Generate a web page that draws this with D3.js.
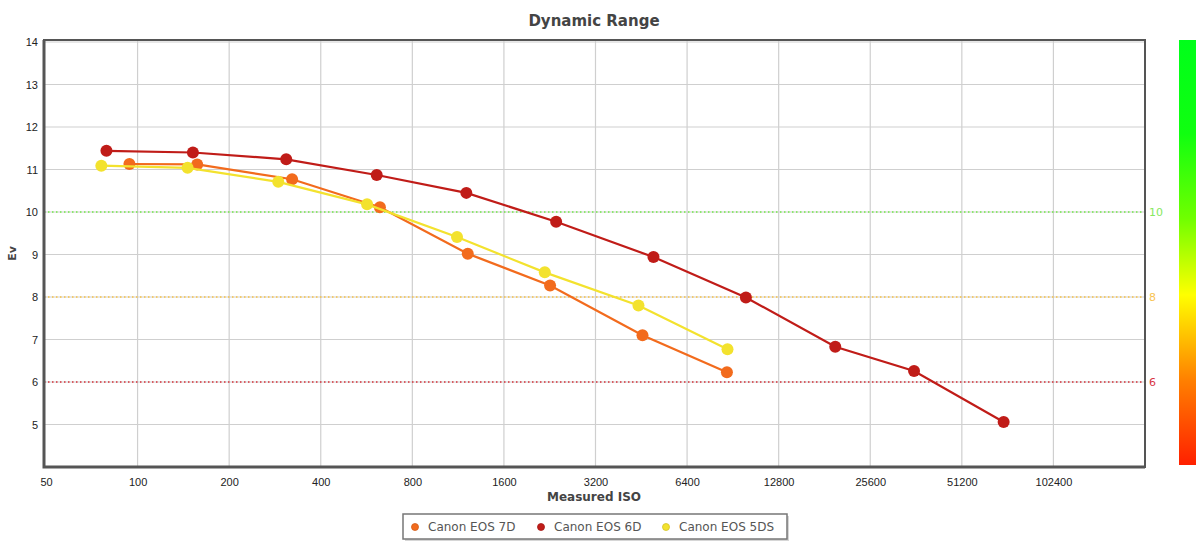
<!DOCTYPE html>
<html>
<head>
<meta charset="utf-8">
<script src="https://cdn.jsdelivr.net/npm/d3@7"></script>
<style>
  body { margin: 0; background: #fff; }
  svg { font-family: "DejaVu Sans", Verdana, sans-serif; }
</style>
</head>
<body>
<div id="chart"></div>
<script>
// data
const isoTicks = [50, 100, 200, 400, 800, 1600, 3200, 6400, 12800, 25600, 51200, 102400]
const evTicks = [5, 6, 7, 8, 9, 10, 11, 12, 13, 14]

const iso7D = [94, 157, 322, 626, 1217, 2269, 4566, 8652]
const ev7D = [11.13, 11.12, 10.77, 10.11, 9.02, 8.27, 7.10, 6.23]

const iso6D = [79, 152, 308, 611, 1204, 2376, 4962, 9990, 19645, 35660, 70260]
const ev6D = [11.44, 11.40, 11.24, 10.87, 10.45, 9.77, 8.94, 7.99, 6.83, 6.26, 5.06]

const iso5DS = [76, 146, 290, 568, 1122, 2180, 4430, 8690]
const ev5DS = [11.09, 11.04, 10.71, 10.18, 9.41, 8.58, 7.80, 6.77]

const seriesNames = ["Canon EOS 7D", "Canon EOS 6D", "Canon EOS 5DS"]
const seriesColors = ["#f26b1d", "#c01c18", "#f3e22e"]

const refLevels = [10, 8, 6]
const refColors = ["#72e84a", "#f7c144", "#d3313a"]
const refLabelColors = ["#86e860", "#f8c353", "#d83545"]

const W = 1200, H = 545
const plot = {left: 44, right: 1145, top: 40, bottom: 467}

const svg = d3.select("#chart").append("svg")
    .attr("width", W)
    .attr("height", H)

const x = d3.scaleLog().base(2)
    .domain([50, 204800])
    .range([46, plot.right])
const y = d3.scaleLinear()
    .domain([4, 14])
    .range([plot.bottom, 42])

// grid
const grid = svg.append("g")
grid.selectAll(".vgrid")
    .data(isoTicks.slice(1))
    .join("line")
    .attr("x1", d => x(d)).attr("x2", d => x(d))
    .attr("y1", plot.top).attr("y2", plot.bottom)
    .attr("stroke", "#cfcfcf")
    .attr("stroke-width", 1.2)
grid.selectAll(".hgrid")
    .data(evTicks)
    .join("line")
    .attr("x1", plot.left).attr("x2", plot.right)
    .attr("y1", d => y(d)).attr("y2", d => y(d))
    .attr("stroke", "#cfcfcf")
    .attr("stroke-width", 1.2)

// reference dotted lines
refLevels.forEach((lv, i) => {
    svg.append("line")
        .attr("x1", plot.left).attr("x2", plot.right)
        .attr("y1", y(lv)).attr("y2", y(lv))
        .attr("stroke", refColors[i])
        .attr("stroke-width", 1.3)
        .attr("stroke-dasharray", "1.5,2.5")
    svg.append("text")
        .attr("x", plot.right + 4)
        .attr("y", y(lv))
        .attr("dy", "0.35em")
        .attr("fill", refLabelColors[i])
        .style("font-size", "11px")
        .text(lv)
})

// frame
svg.append("rect")
    .attr("x", plot.left).attr("y", plot.top)
    .attr("width", plot.right - plot.left)
    .attr("height", plot.bottom - plot.top)
    .attr("fill", "none")
    .attr("stroke", "#555")
    .attr("stroke-width", 2)
svg.append("path")
    .attr("d", `M${plot.left},${plot.top}V${plot.bottom}H${plot.right}`)
    .attr("fill", "none")
    .attr("stroke", "#555")
    .attr("stroke-width", 3)

// axes
const xAxis = d3.axisBottom(x)
    .tickValues(isoTicks)
    .tickFormat(d3.format("d"))
    .tickSize(0)
    .tickPadding(11)
svg.append("g")
    .attr("transform", `translate(0,${plot.bottom})`)
    .call(xAxis)
    .call(g => g.select(".domain").remove())
    .selectAll("text")
    .attr("fill", "#222")
    .style("font-size", "11px")

const yAxis = d3.axisLeft(y)
    .tickValues(evTicks)
    .tickSize(0)
    .tickPadding(6)
svg.append("g")
    .attr("transform", `translate(${plot.left},0)`)
    .call(yAxis)
    .call(g => g.select(".domain").remove())
    .selectAll("text")
    .attr("fill", "#222")
    .style("font-size", "11px")

// titles
svg.append("text")
    .attr("x", 594).attr("y", 26)
    .attr("text-anchor", "middle")
    .attr("fill", "#444")
    .style("font-size", "15px")
    .style("font-weight", "bold")
    .text("Dynamic Range")
svg.append("text")
    .attr("x", 594).attr("y", 501)
    .attr("text-anchor", "middle")
    .attr("fill", "#444")
    .style("font-size", "12px")
    .style("font-weight", "bold")
    .text("Measured ISO")
svg.append("text")
    .attr("transform", `translate(16,${(plot.top + plot.bottom) / 2}) rotate(-90)`)
    .attr("text-anchor", "middle")
    .attr("fill", "#444")
    .style("font-size", "11px")
    .style("font-weight", "bold")
    .text("Ev")

// series
const seriesData = [
    d3.zip(iso7D, ev7D),
    d3.zip(iso6D, ev6D),
    d3.zip(iso5DS, ev5DS)
]
const line = d3.line().x(d => x(d[0])).y(d => y(d[1]))

seriesData.forEach((pts, i) => {
    const g = svg.append("g")
    g.append("path")
        .attr("d", line(pts))
        .attr("fill", "none")
        .attr("stroke", seriesColors[i])
        .attr("stroke-width", 2.2)
    g.selectAll("circle")
        .data(pts)
        .join("circle")
        .attr("cx", d => x(d[0]))
        .attr("cy", d => y(d[1]))
        .attr("r", 6)
        .attr("fill", seriesColors[i])
})

// colour bar
const defs = svg.append("defs")
const grad = defs.append("linearGradient")
    .attr("id", "evbar")
    .attr("x1", 0).attr("x2", 0).attr("y1", 0).attr("y2", 1)
const barStops = [[0, "#00ff1a"], [0.22, "#10ff10"], [0.42, "#70ff00"], [0.6, "#ffff00"], [0.8, "#ff8000"], [1, "#ff2000"]]
barStops.forEach(s => grad.append("stop").attr("offset", s[0]).attr("stop-color", s[1]))
svg.append("rect")
    .attr("x", 1179).attr("y", 40)
    .attr("width", 17).attr("height", 425)
    .attr("fill", "url(#evbar)")

// legend
const legend = svg.append("g").attr("transform", "translate(403,514)")
legend.append("rect")
    .attr("x", 2).attr("y", 2)
    .attr("width", 384).attr("height", 25)
    .attr("fill", "#bbb")
    .attr("opacity", 0.6)
legend.append("rect")
    .attr("width", 384).attr("height", 25)
    .attr("fill", "#fff")
    .attr("stroke", "#777")
    .attr("stroke-width", 1.5)
const legendX = [12, 138, 263]
seriesNames.forEach((name, i) => {
    legend.append("circle")
        .attr("cx", legendX[i]).attr("cy", 13)
        .attr("r", 3.5)
        .attr("fill", seriesColors[i])
        .attr("stroke", d3.color(seriesColors[i]).darker(0.4))
        .attr("stroke-width", 0.8)
    legend.append("text")
        .attr("x", legendX[i] + 13).attr("y", 13)
        .attr("dy", "0.35em")
        .attr("fill", "#555")
        .style("font-size", "12px")
        .text(name)
})
</script>
</body>
</html>
